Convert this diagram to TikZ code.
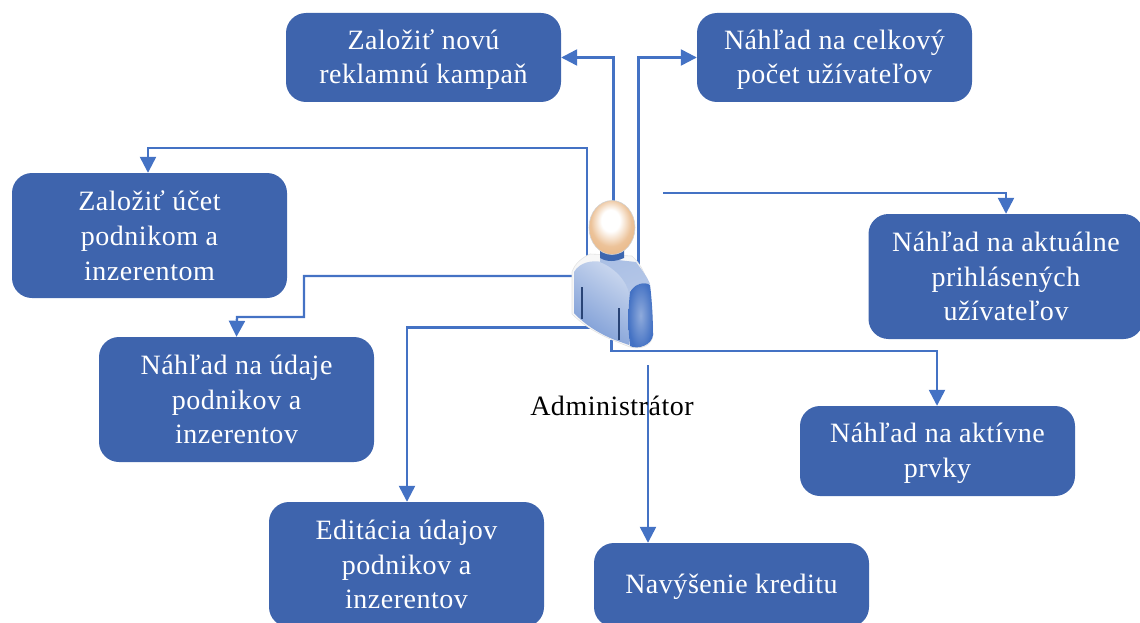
\documentclass[tikz,border=0pt]{standalone}
\usepackage{fontspec}
\setmainfont{Liberation Serif}[LetterSpace=1.9]
\usetikzlibrary{arrows.meta}
\definecolor{boxblue}{HTML}{3E64AD}
\definecolor{linkblue}{HTML}{4472C4}
\pgfdeclareradialshading{headshade}{\pgfpoint{-2bp}{8bp}}{
  color(0bp)=(white); color(10bp)=(white); color(22bp)=(white!75!orange!70!brown); color(30bp)=(orange!40!brown!55!white); color(50bp)=(orange!40!brown!55!white)}
\newcommand{\lowered}{\rule{0pt}{24pt}}
\tikzset{
  x=1pt,y=-1pt,
  taskbox/.style={draw=none,fill=boxblue,rounded corners=20pt,text=white,minimum width=275pt,align=center,
    font=\fontsize{28}{34.8}\selectfont,inner sep=0pt},
  link/.style={draw=linkblue,line width=2.4pt,-{Triangle[length=16pt,width=16pt]}},
  anchorpt/.style={inner sep=0pt,minimum size=0pt},
}
\begin{document}
\begin{tikzpicture}
\useasboundingbox (0,0) rectangle (1140,623);
\clip (0,0) rectangle (1140,623);
\node[taskbox,minimum height=89pt] (kampan) at (423.5,57.5) {\lowered Založiť novú\\reklamnú kampaň};
\node[taskbox,minimum height=89pt] (celkovy) at (834.5,57.5) {\lowered Náhľad na celkový\\počet užívateľov};
\node[taskbox,minimum height=125pt] (ucet) at (149.5,235.5) {Založiť účet\\podnikom a\\inzerentom};
\node[taskbox,minimum height=125pt] (aktualne) at (1006,276.5) {Náhľad na aktuálne\\prihlásených\\užívateľov};
\node[taskbox,minimum height=125pt] (udaje) at (236.5,399.5) {Náhľad na údaje\\podnikov a\\inzerentov};
\node[taskbox,minimum height=90pt] (aktivne) at (937.5,451) {\lowered Náhľad na aktívne\\prvky};
\node[taskbox,minimum height=125pt] (editacia) at (406.5,564.5) {Editácia údajov\\podnikov a\\inzerentov};
\node[taskbox,minimum height=84pt] (kredit) at (731.5,585) {\lowered Navýšenie kreditu};
\coordinate (pa) at (613.5,205);
\coordinate (pb) at (638.5,265);
\coordinate (pc) at (587,258);
\coordinate (pd) at (663,193);
\coordinate (pe) at (575,276);
\coordinate (pf) at (590,327.5);
\coordinate (pg) at (611.5,340);
\coordinate (ph) at (648,365);
\draw[link] (pa) |- (kampan.east |- 0,57.5);
\draw[link] (pb) |- (celkovy.west |- 0,57.5);
\draw[link] (pc) -- (587,148) -- (148,148) -- (ucet.north -| 148,0);
\draw[link] (pd) -- (1006,193) -- (aktualne.north);
\draw[link] (pe) -- (304,276) -- (304,317) -- (237,317) -- (udaje.north);
\draw[link] (pf) -- (407,327.5) -- (editacia.north -| 407,0);
\draw[link] (pg) -- (611.5,351) -- (937,351) -- (aktivne.north -| 937,0);
\draw[link] (ph) -- (kredit.north -| 648,0);
% figure
\path[fill=white!94!gray,draw=gray!22,line width=.6pt]
  (572,272) .. controls (575,263) and (582,258) .. (590,254) -- (632,256) .. controls (645,268) and (652,285) .. (653,335)
  .. controls (652,345) and (642,350) .. (630,347) .. controls (612,340) and (590,332) .. (572,314) -- cycle;
\path[left color=white!72!linkblue,right color=linkblue!70!white,shading angle=-35]
  (574,272) .. controls (580,262) and (592,260) .. (602,262) .. controls (618,268) and (628,278) .. (630,290)
  -- (629,345) -- (615,340) .. controls (600,334) and (585,325) .. (574,313) -- cycle;
\path[left color=white!55!linkblue,right color=white!60!linkblue,shading angle=20]
  (600,258) -- (636,262) .. controls (642,270) and (648,278) .. (650,284) .. controls (640,282) and (632,286) .. (629,293)
  .. controls (626,280) and (615,268) .. (600,262) -- cycle;
\path[inner color=white!40!linkblue,outer color=linkblue]
  (630,292) .. controls (634,284) and (645,281) .. (650,285) .. controls (652,300) and (653,320) .. (653,335)
  .. controls (652,345) and (638,350) .. (630,346) .. controls (628,330) and (628,310) .. (630,292) -- cycle;
\fill[linkblue!90!black] (600,250) -- (624,250) -- (624,258) .. controls (615,262) and (607,262) .. (600,258) -- cycle;
\draw[linkblue!60!black,line width=1.8pt] (582,287) -- (582,319);
\draw[linkblue!60!black,line width=1.8pt] (619,308) -- (619,340);
\path[shading=headshade,draw=gray!35,line width=.6pt] (612,227.5) ellipse [x radius=23,y radius=27];
\node[anchorpt,font=\fontsize{28}{30}\selectfont,text=black] (admin) at (612,406) {Administrátor};
\end{tikzpicture}
\end{document}
